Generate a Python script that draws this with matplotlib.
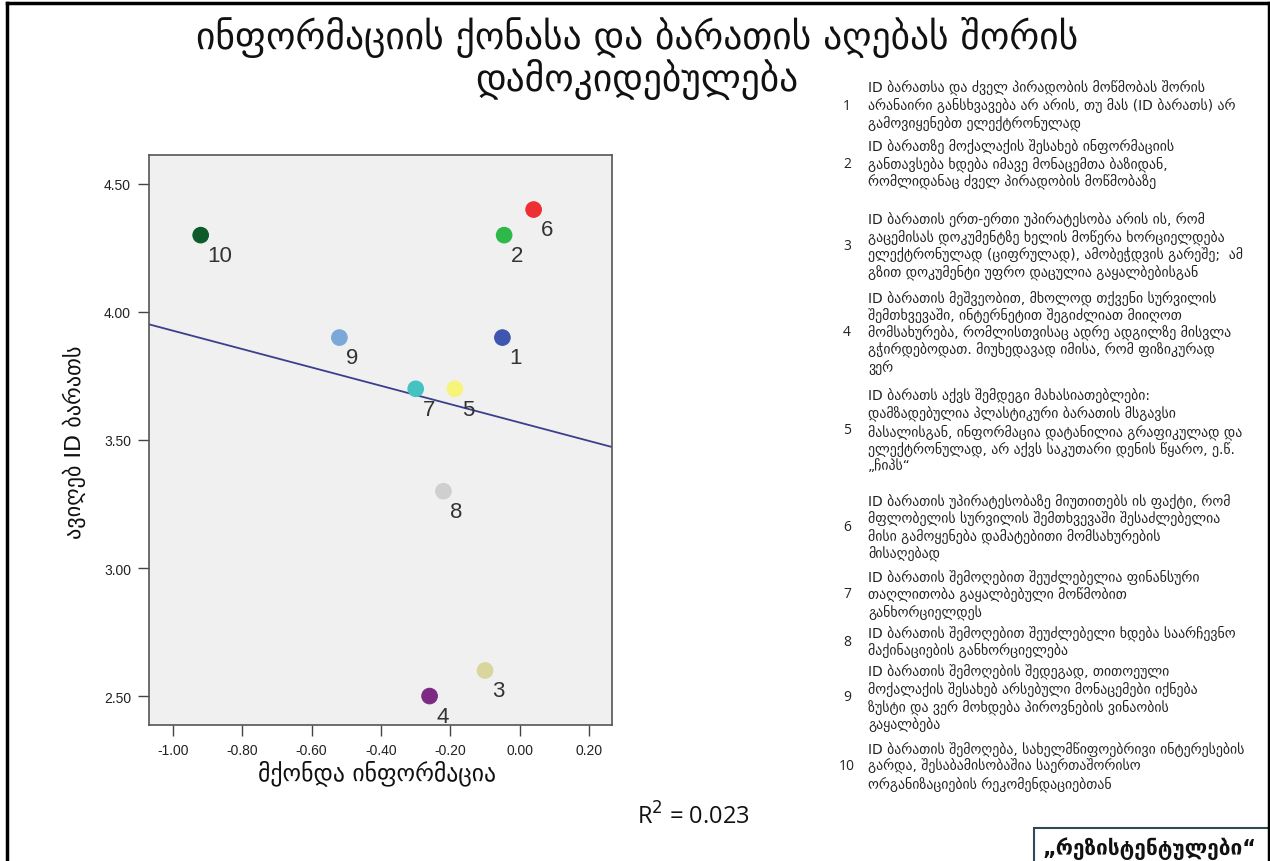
import numpy as np
import matplotlib
matplotlib.use("Agg")
import matplotlib.pyplot as plt
from matplotlib.lines import Line2D
from matplotlib.patches import Rectangle

# ---------------- data ----------------
labels = ["1", "2", "3", "4", "5", "6", "7", "8", "9", "10"]
x_info = [-0.05, -0.045, -0.10, -0.26, -0.187, 0.04, -0.30, -0.22, -0.52, -0.92]
y_take = [3.90, 4.30, 2.60, 2.50, 3.70, 4.40, 3.70, 3.30, 3.90, 4.30]
colors = ["#3f56b0", "#2db84a", "#d9d59c", "#7d2a85", "#f7f47a",
          "#ee2e32", "#45c2c2", "#cfcfcf", "#7aa8d8", "#0d5a2a"]

x_ticks = [-1.00, -0.80, -0.60, -0.40, -0.20, 0.00, 0.20]
y_ticks = [2.50, 3.00, 3.50, 4.00, 4.50]

title_lines = ["ინფორმაციის ქონასა და ბარათის აღებას შორის", "დამოკიდებულება"]
x_label = "მქონდა ინფორმაცია"
y_label = "ავიღებ ID ბარათს"
group_label = "„რეზისტენტულები“"

statements = [
    "ID ბარათსა და ძველ პირადობის მოწმობას შორის\nარანაირი განსხვავება არ არის, თუ მას (ID ბარათს) არ\nგამოვიყენებთ ელექტრონულად",
    "ID ბარათზე მოქალაქის შესახებ ინფორმაციის\nგანთავსება ხდება იმავე მონაცემთა ბაზიდან,\nრომლიდანაც ძველ პირადობის მოწმობაზე",
    "ID ბარათის ერთ-ერთი უპირატესობა არის ის, რომ\nგაცემისას დოკუმენტზე ხელის მოწერა ხორციელდება\nელექტრონულად (ციფრულად), ამობეჭდვის გარეშე;  ამ\nგზით დოკუმენტი უფრო დაცულია გაყალბებისგან",
    "ID ბარათის მეშვეობით, მხოლოდ თქვენი სურვილის\nშემთხვევაში, ინტერნეტით შეგიძლიათ მიიღოთ\nმომსახურება, რომლისთვისაც ადრე ადგილზე მისვლა\nგჭირდებოდათ. მიუხედავად იმისა, რომ ფიზიკურად\nვერ",
    "ID ბარათს აქვს შემდეგი მახასიათებლები:\nდამზადებულია პლასტიკური ბარათის მსგავსი\nმასალისგან, ინფორმაცია დატანილია გრაფიკულად და\nელექტრონულად, არ აქვს საკუთარი დენის წყარო, ე.წ.\n„ჩიპს“",
    "ID ბარათის უპირატესობაზე მიუთითებს ის ფაქტი, რომ\nმფლობელის სურვილის შემთხვევაში შესაძლებელია\nმისი გამოყენება დამატებითი მომსახურების\nმისაღებად",
    "ID ბარათის შემოღებით შეუძლებელია ფინანსური\nთაღლითობა გაყალბებული მოწმობით\nგანხორციელდეს",
    "ID ბარათის შემოღებით შეუძლებელი ხდება საარჩევნო\nმაქინაციების განხორციელება",
    "ID ბარათის შემოღების შედეგად, თითოეული\nმოქალაქის შესახებ არსებული მონაცემები იქნება\nზუსტი და ვერ მოხდება პიროვნების ვინაობის\nგაყალბება",
    "ID ბარათის შემოღება, სახელმწიფოებრივი ინტერესების\nგარდა, შესაბამისობაშია საერთაშორისო\nორგანიზაციების რეკომენდაციებთან",
]
# vertical centre (pixel row) of each statement block
statement_rows = [106, 164, 246, 333, 431, 528, 595, 642, 698, 767]
r2_value = 0.023

# ---------------- figure ----------------
W, H = 1270, 862
plt.rcParams["font.family"] = ["DejaVu Sans"]
fig = plt.figure(figsize=(W / 100, H / 100), dpi=100)
fig.patch.set_facecolor("white")

def fx(px):
    return px / W

def fy(py):
    return 1 - py / H

ax = fig.add_axes([fx(149), fy(726), fx(612) - fx(149), fy(156) - fy(726)])
ax.set_facecolor("#f0f0f0")
ax.set_xlim(-1.069, 0.266)
ax.set_ylim(2.387, 4.613)

# regression line
slope, intercept = np.polyfit(x_info, y_take, 1)
xl = np.array(ax.get_xlim())
ax.plot(xl, intercept + slope * xl, color="#3b3f8c", lw=1.3, zorder=2)

ax.scatter(x_info, y_take, s=125, c=colors, edgecolors=colors, linewidths=0.8, zorder=3)
for lab, xv, yv in zip(labels, x_info, y_take):
    ax.annotate(lab, (xv, yv), xytext=(5, -7), textcoords="offset points",
                ha="left", va="top", fontsize=16, color="#333333",
                family=["Liberation Sans", "DejaVu Sans"])

ax.set_xticks(x_ticks)
ax.set_xticklabels([f"{v:.2f}" for v in x_ticks])
ax.set_yticks(y_ticks)
ax.set_yticklabels([f"{v:.2f}" for v in y_ticks])
ax.tick_params(axis="both", length=8, width=1, color="#444444", labelsize=10,
               labelcolor="#222222", pad=5)
for t in ax.get_xticklabels() + ax.get_yticklabels():
    t.set_family(["Liberation Sans", "DejaVu Sans"])
for sp in ax.spines.values():
    sp.set_color("#555555")
    sp.set_linewidth(1.2)

# axis labels
fig.text(fx(377), fy(773), x_label, ha="center", va="center", fontsize=17, color="#111111")
fig.text(fx(74), fy(442), y_label, ha="center", va="center", rotation=90,
         fontsize=16, color="#111111")

# title (two separate lines)
fig.text(fx(637), fy(37), title_lines[0], ha="center", va="center", fontsize=27,
         color="#111111")
fig.text(fx(637), fy(80), title_lines[1], ha="center", va="center", fontsize=27,
         color="#111111")

# R^2
fig.text(fx(750), fy(817), f"R$^2$ = {r2_value:.3f}", ha="right", va="center",
         fontsize=17, color="#111111", family=["Open Sans", "DejaVu Sans"])

# statements
for lab, txt, row in zip(labels, statements, statement_rows):
    fig.text(fx(847), fy(row), lab, ha="center", va="center", fontsize=10,
             color="#222222", family=["Open Sans", "DejaVu Sans"])
    fig.text(fx(868), fy(row), txt, ha="left", va="center", fontsize=10,
             linespacing=1.17, color="#222222")

# bottom-right group box
fig.add_artist(Rectangle((fx(1034), fy(880)), fx(1300) - fx(1034), fy(829) - fy(880),
                         transform=fig.transFigure, facecolor="white",
                         edgecolor="#2f4a56", lw=1.5))
fig.text(fx(1150), fy(849), group_label, ha="center", va="center", fontsize=15,
         fontweight="bold", color="#111111")

# outer frame
for (x0, y0, x1, y1) in [(7, 4, 7, 870), (7, 4, 1269, 4), (1269, 4, 1269, 870)]:
    fig.add_artist(Line2D([fx(x0), fx(x1)], [fy(y0), fy(y1)], transform=fig.transFigure,
                          color="black", lw=2.5))

fig.savefig("out.png", dpi=100)
